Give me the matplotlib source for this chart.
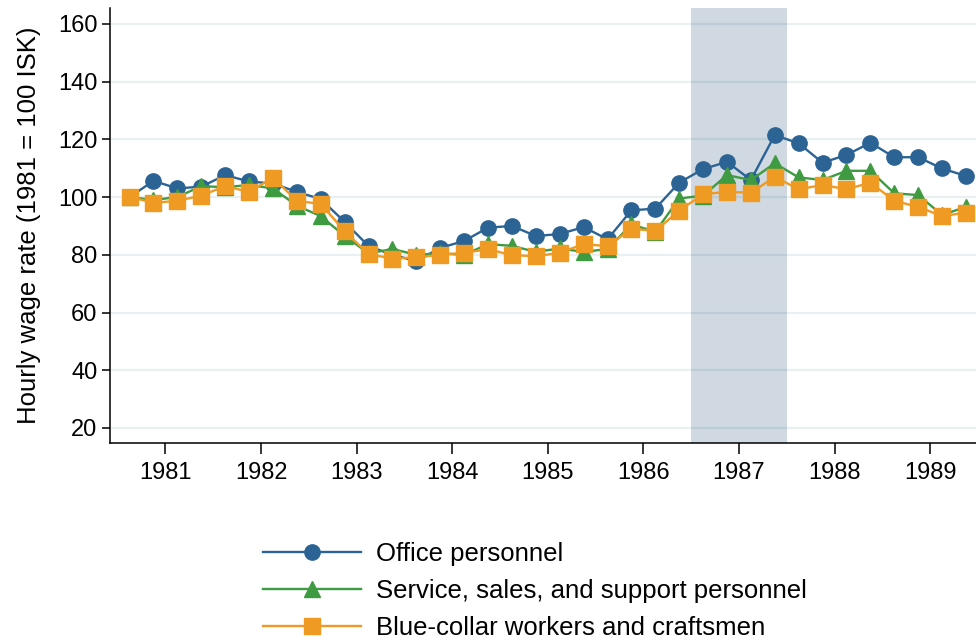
import matplotlib
matplotlib.use('Agg')
import matplotlib.pyplot as plt
import numpy as np

plt.rcParams['font.family'] = ['Liberation Sans', 'DejaVu Sans']

# Quarterly observations, 1980q3 .. 1989q2 (plotted at quarter midpoints)
quarters = 1980.625 + 0.25 * np.arange(36)

office = [100, 105.6, 103, 103.6, 107.6, 105.4, 104.7, 101.8, 99.3, 91.4,
          83, 80, 77.8, 82.4, 84.8, 89.4, 90, 86.5, 87.2, 89.6,
          85.4, 95.4, 96, 105, 109.7, 112.2, 105.9, 121.5, 118.6, 111.9,
          114.6, 118.8, 113.8, 113.8, 109.9, 107.3]
service = [100, 99, 100, 103.8, 103.4, 104.2, 103, 97, 93.4, 86.5,
           80.5, 82, 80, 80.5, 80, 83.7, 83.1, 81, 82.2, 81,
           82, 90.5, 88, 99.5, 100.5, 107.6, 105.9, 111.7, 106.8, 105.9,
           109.1, 109.1, 101.3, 100.7, 93.8, 96.6]
blue_collar = [100.1, 98, 98.7, 100.5, 103.8, 101.8, 106.7, 98.7, 97.6, 88.2,
               80.2, 78.7, 79.1, 80, 80.7, 81.9, 79.9, 79.5, 80.7, 83.7,
               83, 89, 88.3, 95.3, 101, 101.8, 101.5, 107, 102.7, 104.2,
               102.7, 105, 98.7, 96.6, 93.4, 94.6]

labels = ['Office personnel',
          'Service, sales, and support personnel',
          'Blue-collar workers and craftsmen']
colors = ['#2a6394', '#3f9b41', '#ef9a22']
markers = ['o', '^', 's']

shade_start, shade_end = 1986.5, 1987.5
year_ticks = np.arange(1981, 1990)
y_ticks = np.arange(20, 161, 20)

FS = 18.5
TICK_FS = 17

fig = plt.figure(figsize=(9.76, 6.41), dpi=100)
ax = fig.add_axes([110 / 976, 1 - 443 / 641, 866 / 976, 435 / 641])

ax.axvspan(shade_start, shade_end, color='#14416e', alpha=0.2, lw=0, zorder=1)

for series, lab, col, mk in zip([office, service, blue_collar], labels, colors, markers):
    ax.plot(quarters, series, color=col, marker=mk, markersize=11, linewidth=1.7,
            label=lab, zorder=3)

ax.set_xlim(1980.42, 1989.48)
ax.set_ylim(14.8, 165.5)
ax.set_xticks(year_ticks)
ax.set_yticks(y_ticks)
ax.yaxis.grid(True, color='#e8f0f2', linewidth=1.6, zorder=0)
ax.set_axisbelow(True)

for side in ['top', 'right']:
    ax.spines[side].set_visible(False)
for side in ['left', 'bottom']:
    ax.spines[side].set_linewidth(1.1)

ax.tick_params(axis='x', length=8, width=1.1, pad=6, labelsize=TICK_FS)
ax.tick_params(axis='y', length=6, width=1.1, pad=3, labelsize=TICK_FS)
ax.set_ylabel('Hourly wage rate (1981 = 100 ISK)', fontsize=FS, labelpad=12)

fig.legend(loc='upper left', bbox_to_anchor=(263 / 976, 1 - 542 / 641),
           frameon=False, fontsize=FS, handlelength=3.8, handletextpad=0.58,
           labelspacing=0.5, borderpad=0, borderaxespad=0)

fig.savefig('out.png', dpi=100)
